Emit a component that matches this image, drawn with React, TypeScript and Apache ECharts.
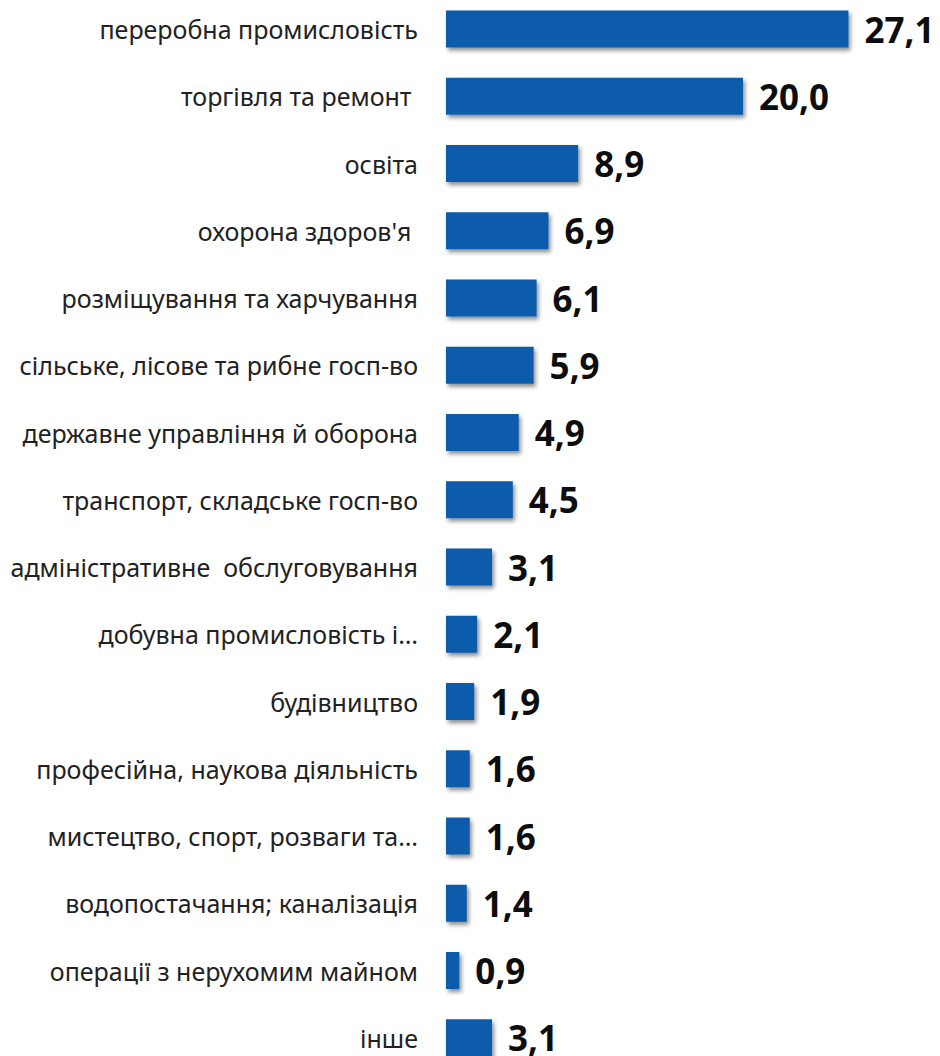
import React, { useEffect, useRef } from "react";
import * as echarts from "echarts";

const categories = [
  "переробна промисловість",
  "торгівля та ремонт ",
  "освіта",
  "охорона здоров'я ",
  "розміщування та харчування",
  "сільське, лісове та рибне госп-во",
  "державне управління й оборона",
  "транспорт, складське госп-во",
  "адміністративне  обслуговування",
  "добувна промисловість і…",
  "будівництво",
  "професійна, наукова діяльність",
  "мистецтво, спорт, розваги та…",
  "водопостачання; каналізація",
  "операції з нерухомим майном",
  "інше",
];

const values = [27.1, 20.0, 8.9, 6.9, 6.1, 5.9, 4.9, 4.5, 3.1, 2.1, 1.9, 1.6, 1.6, 1.4, 0.9, 3.1];

export default function App() {
  const ref = useRef<HTMLDivElement>(null);
  useEffect(() => {
    const chart = echarts.init(ref.current!, null, { renderer: "svg" });
    chart.setOption({
      animation: false,
      grid: { left: 446, width: 445.5, top: -4.6, height: 1076, outerBoundsMode: "none", containLabel: false },
      xAxis: {
        type: "value",
        min: 0,
        max: 30,
        show: false,
      },
      yAxis: {
        type: "category",
        inverse: true,
        data: categories,
        axisLine: { show: false },
        axisTick: { show: false },
        axisLabel: {
          margin: 28,
          fontSize: 25,
          color: "#222",
          fontFamily: "Noto Sans",
        },
      },
      series: [
        {
          type: "bar",
          data: values,
          barWidth: 37,
          itemStyle: {
            color: "#0a5bab",
            shadowColor: "rgba(0,0,0,0.45)",
            shadowBlur: 4,
            shadowOffsetX: 2,
            shadowOffsetY: 3,
          },
          label: {
            show: true,
            position: "right",
            distance: 16,
            fontSize: 35,
            fontWeight: "bold",
            color: "#0d0d0d",
            fontFamily: "Noto Sans",
            formatter: (p: any) => p.value.toFixed(1).replace(".", ","),
          },
        },
      ],
    });
    return () => chart.dispose();
  }, []);
  return (
    <div
      ref={ref}
      style={{ position: "fixed", left: 0, top: 0, width: 940, height: 1056, background: "#fff" }}
    />
  );
}
